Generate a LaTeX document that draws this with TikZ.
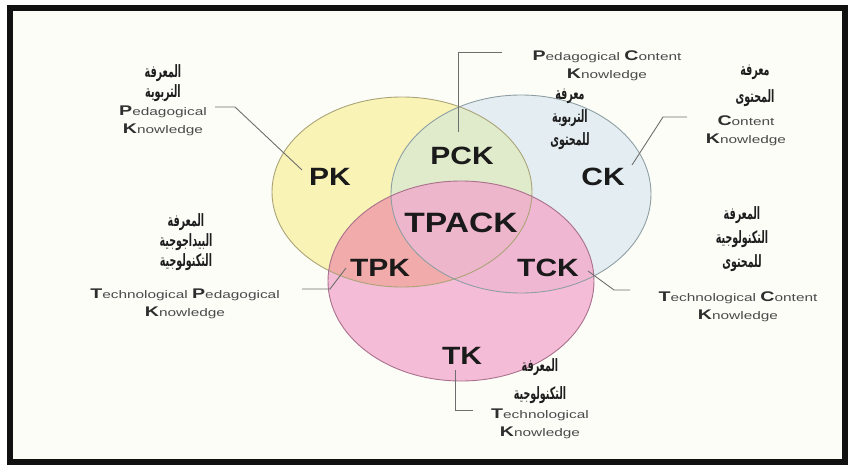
\documentclass[tikz,border=0pt]{standalone}
\usepackage{fontspec}
\setmainfont{Liberation Sans}
\newfontfamily\lblfont[FakeStretch=1.2]{Liberation Sans}
\newfontfamily\engfont[FakeStretch=1.4]{Liberation Sans}
\newfontfamily\arabicfont[Script=Arabic,FakeStretch=0.56]{DejaVu Sans}
\TeXXeTstate=1
\definecolor{bgc}{HTML}{FDFDF8}
\definecolor{framec}{HTML}{111111}
\definecolor{yel}{HTML}{F9F4B5}
\definecolor{blu}{HTML}{E4EEF2}
\definecolor{grn}{HTML}{E0EBCB}
\definecolor{pnk}{HTML}{F4BCD6}
\definecolor{sal}{HTML}{F1ABAA}
\definecolor{tckc}{HTML}{F0B7D3}
\definecolor{ctr}{HTML}{EEB6CB}
\definecolor{yline}{HTML}{ABA479}
\definecolor{bline}{HTML}{8E9FA3}
\definecolor{pline}{HTML}{A9718B}
\definecolor{linec}{HTML}{6E6E6E}
\definecolor{labc}{HTML}{1A1A1A}
\definecolor{arc}{HTML}{1E1E1E}
\definecolor{engc}{HTML}{4A4A4A}
\definecolor{inic}{HTML}{2E2E2E}
\newcommand\AR[1]{\beginR #1\endR}
\newcommand\ini[1]{{\fontsize{14}{14}\selectfont\bfseries\color{inic}#1}}
\begin{document}
\begin{tikzpicture}[x=1pt,y=-1pt,
  conn/.style={draw=linec, line width=0.9pt},
  big/.style={font=\lblfont\bfseries\fontsize{25}{25}\selectfont, text=labc, inner sep=0pt},
  ar/.style={font=\arabicfont\bfseries\fontsize{17}{20}\selectfont, text=arc, align=center, inner sep=0pt},
  en/.style={font=\engfont\fontsize{11}{18}\selectfont, text=engc, align=center, inner sep=0pt},
  ellY/.style={insert path={(402,192) ellipse [x radius=130pt, y radius=95pt]}},
  ellB/.style={insert path={(521,194) ellipse [x radius=130pt, y radius=99pt]}},
  ellP/.style={insert path={(461,281) ellipse [x radius=133pt, y radius=100pt]}}]
\useasboundingbox (0,0) rectangle (851,474);
\fill[white] (0,0) rectangle (851,474);
\draw[line width=6pt, fill=bgc, draw=framec] (10,8) rectangle (845,462);
% circles
\fill[yel, ellY];
\fill[blu, ellB];
\begin{scope}\clip[ellY]; \fill[grn, ellB];\end{scope}
\fill[pnk, ellP];
\begin{scope}\clip[ellP]; \fill[sal, ellY];\end{scope}
\begin{scope}\clip[ellP]; \fill[tckc, ellB];\end{scope}
\begin{scope}\clip[ellP]; \clip[ellY]; \fill[ctr, ellB];\end{scope}
\draw[yline, line width=0.9pt, ellY];
\draw[bline, line width=0.9pt, ellB];
\draw[pline, line width=0.9pt, ellP];
% main labels
\node[big] (pk) at (330,177) {PK};
\node[big] (pck) at (462,156) {PCK};
\node[big] (ck) at (603,177) {CK};
\node[big, font=\lblfont\bfseries\fontsize{28}{28}\selectfont] (tpack) at (461,223) {TPACK};
\node[big] (tpk) at (380,268) {TPK};
\node[big] (tck) at (548,268) {TCK};
\node[big] (tk) at (462,356) {TK};
% text blocks
\node[ar] (pkar) at (163,83) {\AR{المعرفة}\\\AR{التربوية}};
\node[en] (pken) at (163,121) {\ini{P}edagogical\\\ini{K}nowledge};
\node[en] (pcken) at (607,66) {\ini{P}edagogical \ini{C}ontent\\\ini{K}nowledge};
\node[ar, font=\arabicfont\bfseries\fontsize{17}{23}\selectfont] (pckar) at (570,119) {\AR{معرفة}\\\AR{التربوية}\\\AR{للمحتوى}};
\node[ar, font=\arabicfont\bfseries\fontsize{17}{27}\selectfont] (ckar) at (755,86) {\AR{معرفة}\\\AR{المحتوى}};
\node[en] (cken) at (746,131) {\ini{C}ontent\\\ini{K}nowledge};
\node[ar] (tpkar) at (186,242) {\AR{المعرفة}\\\AR{البيداجوجية}\\\AR{التكنولوجية}};
\node[en] (tpken) at (185,304) {\ini{T}echnological \ini{P}edagogical\\\ini{K}nowledge};
\node[ar, font=\arabicfont\bfseries\fontsize{17}{24}\selectfont] (tckar) at (742,239) {\AR{المعرفة}\\\AR{التكنولوجية}\\\AR{للمحتوى}};
\node[en] (tcken) at (738,307) {\ini{T}echnological \ini{C}ontent\\\ini{K}nowledge};
\node[ar, font=\arabicfont\bfseries\fontsize{17}{28}\selectfont] (tkar) at (540,381) {\AR{المعرفة}\\\AR{التكنولوجية}};
\node[en] (tken) at (540,424) {\ini{T}echnological\\\ini{K}nowledge};
% connectors
\coordinate (pkA) at (215,107); \coordinate (pkB) at (235,107); \coordinate (pkC) at (302,170);
\draw[conn] (pkA) -- (pkB) -- (pkC);
\coordinate (pckA) at (502,52); \coordinate (pckB) at (458,52); \coordinate (pckC) at (458,132);
\draw[conn] (pckA) -- (pckB) -- (pckC);
\coordinate (ckA) at (687,117); \coordinate (ckB) at (663,117); \coordinate (ckC) at (632,165);
\draw[conn] (ckA) -- (ckB) -- (ckC);
\coordinate (tpkA) at (302,289); \coordinate (tpkB) at (330,289); \coordinate (tpkC) at (346,268);
\draw[conn] (tpkA) -- (tpkB) -- (tpkC);
\coordinate (tckA) at (588,271); \coordinate (tckB) at (614,290); \coordinate (tckC) at (630,290);
\draw[conn] (tckA) -- (tckB) -- (tckC);
\coordinate (tkA) at (455,370); \coordinate (tkB) at (455,410); \coordinate (tkC) at (473,410);
\draw[conn] (tkA) -- (tkB) -- (tkC);
\end{tikzpicture}
\end{document}
